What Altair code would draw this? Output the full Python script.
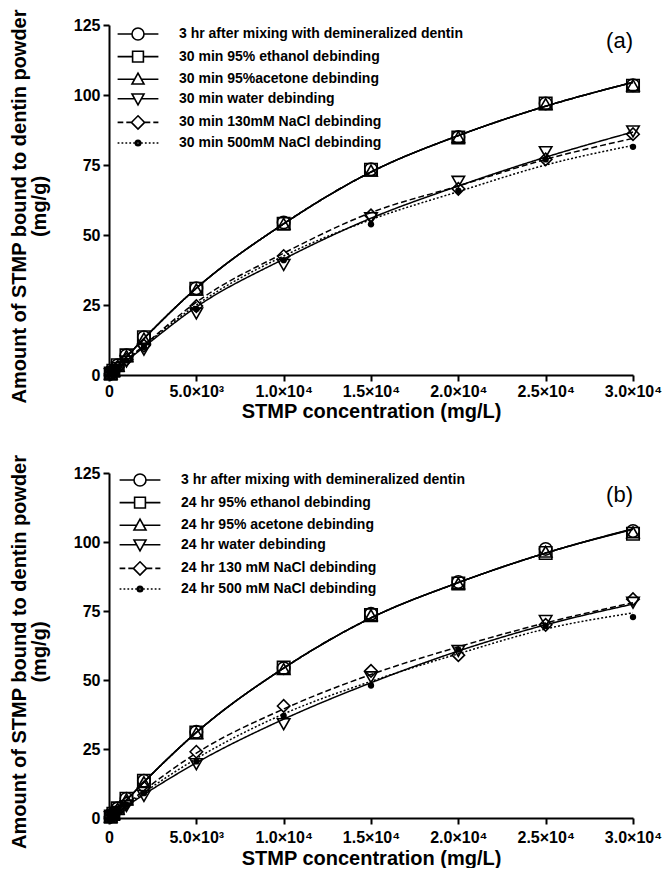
import altair as alt
import pandas as pd

# ---------------- data ----------------
x_conc = [100, 250, 500, 1000, 2000, 5000, 10000, 15000, 20000, 25000, 30000]
fit_x = [0, 1000, 2000, 5000, 10000, 15000, 20000, 25000, 30000]

labels_a = [
    "3 hr after mixing with demineralized dentin",
    "30 min 95% ethanol debinding",
    "30  min 95%acetone debinding",
    "30 min water debinding",
    "30 min 130mM NaCl debinding",
    "30 min 500mM NaCl debinding",
]
labels_b = [
    "3 hr after mixing with demineralized dentin",
    "24 hr 95% ethanol debinding",
    "24 hr 95% acetone debinding",
    "24 hr water debinding",
    "24 hr 130 mM NaCl debinding",
    "24 hr 500 mM NaCl debinding",
]

# panel (a) measured points
mix_a = [0.5, 1.5, 3.5, 7.0, 13.5, 31.0, 54.5, 73.5, 85.0, 97.0, 103.5]
ethanol_a = [0.5, 1.5, 3.5, 7.0, 13.5, 30.8, 54.0, 73.3, 84.8, 97.0, 103.3]
acetone_a = [0.5, 1.5, 3.3, 6.8, 13.0, 30.5, 54.0, 73.0, 85.0, 96.8, 103.5]
water_a = [0.3, 1.0, 2.5, 4.8, 9.0, 22.0, 39.3, 56.0, 69.0, 79.6, 87.0]
nacl130_a = [0.4, 1.2, 2.8, 5.5, 10.5, 24.6, 42.5, 57.0, 66.5, 77.0, 86.0]
nacl500_a = [0.3, 1.1, 2.6, 5.2, 10.0, 23.6, 41.0, 53.8, 65.8, 77.0, 81.5]

# panel (a) fitted curves
mix_fit_a = [0, 6.5, 13.0, 31.0, 54.0, 72.5, 85.5, 96.0, 104.5]
ethanol_fit_a = [0, 6.5, 13.0, 31.0, 54.0, 72.5, 85.5, 96.0, 104.5]
acetone_fit_a = [0, 6.5, 13.0, 31.0, 54.0, 72.5, 85.5, 96.0, 104.5]
water_fit_a = [0, 5.0, 10.0, 24.3, 41.4, 56.0, 67.5, 77.8, 86.8]
nacl130_fit_a = [0, 5.3, 10.6, 26.0, 43.5, 58.0, 67.5, 77.0, 84.5]
nacl500_fit_a = [0, 5.2, 10.4, 25.0, 42.5, 55.5, 65.5, 75.0, 82.0]

# panel (b) measured points
mix_b = [0.5, 1.5, 3.5, 7.0, 13.5, 31.2, 54.3, 74.0, 85.5, 97.5, 104.0]
ethanol_b = [0.5, 1.5, 3.5, 7.0, 13.5, 31.0, 54.5, 73.5, 85.0, 96.0, 103.0]
acetone_b = [0.5, 1.5, 3.3, 6.8, 13.0, 30.8, 54.0, 73.5, 85.0, 96.5, 103.5]
water_b = [0.3, 0.9, 2.2, 4.3, 8.0, 19.5, 34.0, 51.0, 60.5, 71.4, 78.0]
nacl130_b = [0.4, 1.2, 2.8, 5.5, 11.0, 24.0, 40.6, 53.3, 59.0, 70.0, 79.3]
nacl500_b = [0.3, 1.0, 2.4, 4.8, 9.0, 20.5, 37.0, 48.0, 61.0, 69.6, 72.8]

# panel (b) fitted curves
mix_fit_b = [0, 6.5, 13.0, 31.0, 54.3, 72.5, 85.3, 96.0, 104.8]
ethanol_fit_b = [0, 6.5, 13.0, 31.0, 54.3, 72.5, 85.3, 96.0, 104.6]
acetone_fit_b = [0, 6.5, 13.0, 31.0, 54.3, 72.5, 85.3, 96.0, 104.7]
water_fit_b = [0, 4.3, 8.5, 20.0, 35.8, 49.0, 60.5, 70.0, 77.5]
nacl130_fit_b = [0, 5.0, 10.0, 23.5, 39.5, 52.0, 62.0, 70.7, 78.0]
nacl500_fit_b = [0, 4.6, 9.2, 21.5, 37.7, 49.5, 59.5, 68.5, 74.3]

x_tick_values = [0, 5000, 10000, 15000, 20000, 25000, 30000]
x_tick_labels = ["0", "5.0\u00d710\u00b3", "1.0\u00d710\u2074", "1.5\u00d710\u2074",
                 "2.0\u00d710\u2074", "2.5\u00d710\u2074", "3.0\u00d710\u2074"]
y_tick_values = [0, 25, 50, 75, 100, 125]

# ---------------- styles ----------------
FONT = "Liberation Sans"
hollow_shapes = ["circle", "square", "triangle-up", "triangle-down", "diamond"]
line_dashes = [[1, 0], [1, 0], [1, 0], [1, 0], [6, 3], [2, 2]]


def dashed(x0, x1, dash, gap):
    parts = []
    x = x0
    while x < x1 - 1e-6:
        e = min(x + dash, x1)
        parts.append(f"M{x:.2f},0L{e:.2f},0")
        x = e + gap
    return "".join(parts)


def side_lines(inner, style):
    L = 3.4
    if style == "solid":
        return f"M{-L},0L{-inner},0M{inner},0L{L},0"
    if style == "dash":
        return dashed(-L, -inner, 0.95, 0.5) + dashed(inner, L, 0.95, 0.5)
    return dashed(-L, -inner, 0.3, 0.35) + dashed(inner, L, 0.3, 0.35)


legend_paths = [
    side_lines(1.0, "solid") + "M-1,0A1,1,0,1,1,1,0A1,1,0,1,1,-1,0Z",
    side_lines(0.9, "solid") + "M-0.9,-0.9L0.9,-0.9L0.9,0.9L-0.9,0.9Z",
    side_lines(0.56, "solid") + "M0,-1L1,0.8L-1,0.8Z",
    side_lines(0.56, "solid") + "M0,1L1,-0.8L-1,-0.8Z",
    side_lines(1.1, "dash") + "M0,-1.1L1.1,0L0,1.1L-1.1,0Z",
    side_lines(0.5, "dot") + "M-0.45,0A0.45,0.45,0,1,1,0.45,0A0.45,0.45,0,1,1,-0.45,0Z"
    + "M-0.22,0A0.22,0.22,0,1,1,0.22,0A0.22,0.22,0,1,1,-0.22,0Z",
]


def panel(labels, pts_lists, fit_lists, tag, width, height, leg_x, leg_y, tag_y,
          x_label_pad, x_title_pad):
    pts = pd.DataFrame(
        [{"series": lab, "x": xv, "y": yv}
         for lab, vals in zip(labels, pts_lists) for xv, yv in zip(x_conc, vals)]
    )
    fits = pd.DataFrame(
        [{"series": lab, "x": xv, "y": yv}
         for lab, vals in zip(labels, fit_lists) for xv, yv in zip(fit_x, vals)]
    )
    label_expr = "[" + ",".join(f"'{t}'" for t in x_tick_labels) + "][round(datum.value / 5000)]"
    xenc = alt.X(
        "x:Q",
        scale=alt.Scale(domain=[0, 30000], nice=False, zero=True),
        axis=alt.Axis(values=x_tick_values, labelExpr=label_expr, labelFlush=False,
                      title="STMP concentration (mg/L)", titlePadding=x_title_pad,
                      titleFontSize=20, labelPadding=x_label_pad),
    )
    yenc = alt.Y(
        "y:Q",
        scale=alt.Scale(domain=[0, 125], nice=False),
        axis=alt.Axis(values=y_tick_values, labelPadding=3,
                      title=["Amount of STMP bound to dentin powder", "(mg/g)"],
                      titlePadding=24, titleLineHeight=20, titleFontSize=20,
                      titleY=height / 2 + 6),
    )
    lines = alt.Chart(fits).mark_line(color="black", strokeWidth=1.5, interpolate="monotone").encode(
        x=xenc, y=yenc, detail="series:N",
        strokeDash=alt.StrokeDash("series:N", scale=alt.Scale(domain=labels, range=line_dashes), legend=None),
    )
    hollow = alt.Chart(pts).transform_filter(
        alt.FieldOneOfPredicate(field="series", oneOf=labels[:5])
    ).mark_point(color="black", strokeWidth=1.6, opacity=1, size=155, filled=False).encode(
        x=xenc, y=yenc,
        shape=alt.Shape("series:N", scale=alt.Scale(domain=labels[:5], range=hollow_shapes), legend=None),
    )
    dots = alt.Chart(pts).transform_filter(
        alt.FieldEqualPredicate(field="series", equal=labels[5])
    ).mark_circle(color="black", size=40, opacity=1).encode(x=xenc, y=yenc)
    leg_df = pd.DataFrame({"series": labels, "x": [0] * 6, "y": [0] * 6})
    legend = alt.Chart(leg_df).transform_filter("false").mark_point(
        filled=False, color="black", strokeWidth=1.6, opacity=1
    ).encode(
        x=xenc, y=yenc,
        shape=alt.Shape(
            "series:N",
            scale=alt.Scale(domain=labels, range=legend_paths),
            legend=alt.Legend(
                title=None, orient="none", legendX=leg_x, legendY=leg_y,
                symbolSize=144, symbolStrokeWidth=1.6, symbolStrokeColor="black",
                symbolOpacity=1,
                labelFont=FONT, labelFontSize=14, labelFontWeight="bold",
                labelColor="black", labelOffset=34, labelLimit=500,
                rowPadding=3.6, padding=0,
            ),
        ),
    )
    tag_df = pd.DataFrame({"t": [tag]})
    tag_text = alt.Chart(tag_df).mark_text(
        font=FONT, fontSize=22, align="right", baseline="middle", color="black"
    ).encode(x=alt.value(width), y=alt.value(tag_y), text="t:N")
    return alt.layer(lines, hollow, dots, legend, tag_text).resolve_scale(
        shape="independent", strokeDash="independent"
    ).properties(width=width, height=height)


pa = panel(labels_a,
           [mix_a, ethanol_a, acetone_a, water_a, nacl130_a, nacl500_a],
           [mix_fit_a, ethanol_fit_a, acetone_fit_a, water_fit_a, nacl130_fit_a, nacl500_fit_a],
           "(a)", 524, 350, 22, 2, 16, 2, 2)
pb = panel(labels_b,
           [mix_b, ethanol_b, acetone_b, water_b, nacl130_b, nacl500_b],
           [mix_fit_b, ethanol_fit_b, acetone_fit_b, water_fit_b, nacl130_fit_b, nacl500_fit_b],
           "(b)", 524, 345, 24, 0, 22, 5, 3)

chart = alt.vconcat(pa, pb, spacing=33).resolve_scale(
    shape="independent", strokeDash="independent",
    x="independent", y="independent",
).properties(
    padding={"left": 1, "top": 0, "right": 0, "bottom": 0}
).configure_view(stroke=None).configure_axis(
    grid=False, domainColor="black", domainWidth=2, tickColor="black", tickWidth=2,
    tickSize=6, labelFont=FONT, labelFontSize=16, labelFontWeight="bold",
    labelColor="black", titleFont=FONT, titleFontSize=20, titleFontWeight="bold",
    titleColor="black",
)

chart.save("out.html", embed_options={"renderer": "svg", "actions": False})
